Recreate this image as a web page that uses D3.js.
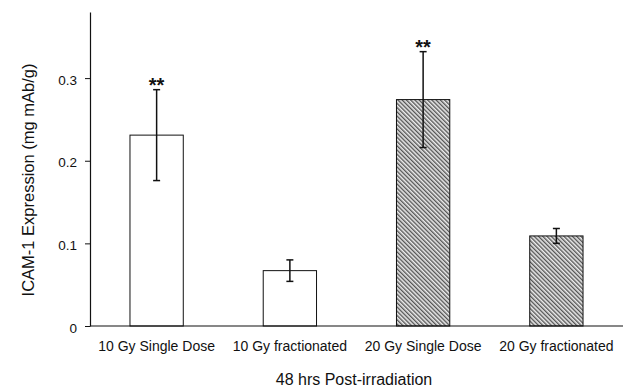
<!DOCTYPE html>
<html>
<head>
<meta charset="utf-8">
<script src="https://cdn.jsdelivr.net/npm/d3@7"></script>
<style>
  body { margin: 0; background: #fff; }
  text { font-family: "Liberation Sans", Arial, sans-serif; fill: #111; }
</style>
</head>
<body>
<svg id="chart" width="630" height="391"></svg>
<script>
// values
var categories = ["10 Gy Single Dose", "10 Gy fractionated", "20 Gy Single Dose", "20 Gy fractionated"];
var means = [0.231, 0.067, 0.274, 0.109];
var errors = [0.055, 0.013, 0.058, 0.009];
var hatched = [false, false, true, true];
var marks = ["**", "", "**", ""];
var yTicks = [0, 0.1, 0.2, 0.3];
var yTickLabels = ["0", "0.1", "0.2", "0.3"];
var yTitle = "ICAM-1 Expression (mg mAb/g)";
var xTitle = "48 hrs Post-irradiation";

var svg = d3.select("#chart");

var x = d3.scaleBand()
	.domain(categories)
	.range([90, 623])
	.paddingInner(0.6)
	.paddingOuter(0.3);

var y = d3.scaleLinear()
	.domain([0, 0.38])
	.range([326, 12]);

// hatch fill for the 20 Gy bars
var pat = svg.append("defs").append("pattern")
	.attr("id", "hatch")
	.attr("patternUnits", "userSpaceOnUse")
	.attr("width", 3)
	.attr("height", 3)
	.attr("patternTransform", "rotate(-45)");
pat.append("rect").attr("width", 3).attr("height", 3).attr("fill", "#ececec");
pat.append("rect").attr("x", 0).attr("width", 0.8).attr("height", 3).attr("fill", "#1a1a1a");
pat.append("rect").attr("x", 0.8).attr("width", 0.9).attr("height", 3).attr("fill", "#9a9a9a");

var data = categories.map(function(c, i){
	return {cat: c, v: means[i], e: errors[i], h: hatched[i], m: marks[i]};
});

// bars
svg.append("g").selectAll("rect")
	.data(data)
	.enter().append("rect")
	.attr("x", function(d){ return x(d.cat); })
	.attr("y", function(d){ return y(d.v); })
	.attr("width", x.bandwidth())
	.attr("height", function(d){ return y(0) - y(d.v); })
	.attr("fill", function(d){ return d.h ? "url(#hatch)" : "#fff"; })
	.attr("stroke", "#111")
	.attr("stroke-width", 1);

// error bars
var eb = svg.append("g").selectAll("g")
	.data(data)
	.enter().append("g")
	.attr("stroke", "#111")
	.attr("stroke-width", 1.5);
eb.append("line")
	.attr("x1", function(d){ return x(d.cat) + x.bandwidth()/2; })
	.attr("x2", function(d){ return x(d.cat) + x.bandwidth()/2; })
	.attr("y1", function(d){ return y(d.v + d.e); })
	.attr("y2", function(d){ return y(d.v - d.e); });
eb.selectAll(".cap")
	.data(function(d){ return [d.v + d.e, d.v - d.e].map(function(t){ return {cat: d.cat, t: t}; }); })
	.enter().append("line")
	.attr("class", "cap")
	.attr("x1", function(d){ return x(d.cat) + x.bandwidth()/2 - 3.5; })
	.attr("x2", function(d){ return x(d.cat) + x.bandwidth()/2 + 3.5; })
	.attr("y1", function(d){ return y(d.t); })
	.attr("y2", function(d){ return y(d.t); });

// significance stars
svg.append("g").selectAll("text")
	.data(data.filter(function(d){ return d.m; }))
	.enter().append("text")
	.attr("x", function(d){ return x(d.cat) + x.bandwidth()/2; })
	.attr("y", function(d){ return y(d.v + d.e) + 2; })
	.attr("text-anchor", "middle")
	.style("font-size", "20px")
	.style("font-weight", "bold")
	.text(function(d){ return d.m; });

// y axis
var yAxis = svg.append("g")
	.attr("transform", "translate(90,0)")
	.call(d3.axisLeft(y)
		.tickValues(yTicks)
		.tickFormat(function(d, i){ return yTickLabels[i]; })
		.tickSize(5)
		.tickPadding(8)
		.tickSizeOuter(0));
yAxis.select(".domain").attr("stroke", "#111").attr("stroke-width", 1.2);
yAxis.selectAll(".tick line").attr("stroke", "#111");
yAxis.selectAll(".tick text")
	.attr("dy", "0.45em")
	.style("font-size", "13.5px")
	.style("font-family", "Liberation Sans, Arial, sans-serif")
	.attr("fill", "#111");

// x axis baseline
svg.append("line")
	.attr("x1", 90).attr("x2", 623)
	.attr("y1", y(0)).attr("y2", y(0))
	.attr("stroke", "#111")
	.attr("stroke-width", 1.2);

// category labels
svg.append("g").selectAll("text")
	.data(categories)
	.enter().append("text")
	.attr("x", function(d){ return x(d) + x.bandwidth()/2; })
	.attr("y", 350.5)
	.attr("text-anchor", "middle")
	.style("font-size", "14px")
	.text(function(d){ return d; });

// axis titles
svg.append("text")
	.attr("x", 354)
	.attr("y", 385)
	.attr("text-anchor", "middle")
	.style("font-size", "16px")
	.text(xTitle);

svg.append("text")
	.attr("transform", "translate(33.5,180) rotate(-90)")
	.attr("text-anchor", "middle")
	.style("font-size", "16.5px")
	.text(yTitle);
</script>
</body>
</html>
